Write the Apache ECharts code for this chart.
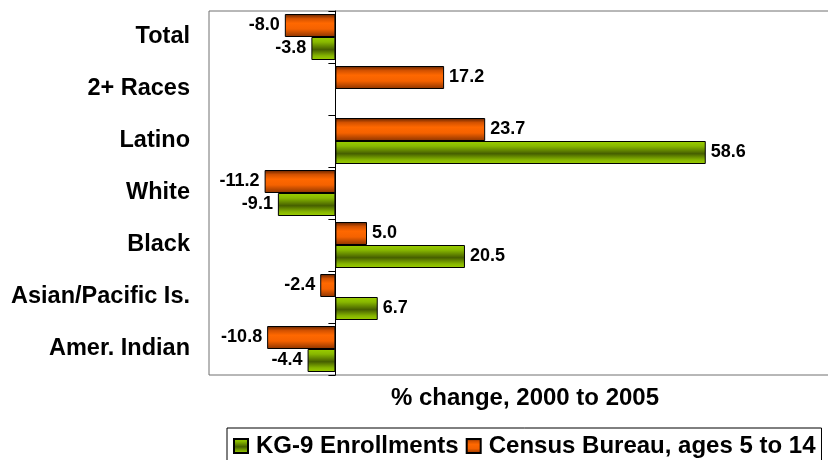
<!DOCTYPE html>
<html>
<head>
<meta charset="utf-8">
<script src="https://cdn.jsdelivr.net/npm/echarts@6/dist/echarts.min.js"></script>
<style>
  html, body { margin: 0; padding: 0; background: #fff; }
  #chart { width: 828px; height: 460px; }
</style>
</head>
<body>
<div id="chart"></div>
<script>
const categories = ['Total', '2+ Races', 'Latino', 'White', 'Black', 'Asian/Pacific Is.', 'Amer. Indian'];
const censusValues = [-8.0, 17.2, 23.7, -11.2, 5.0, -2.4, -10.8];
const enrollValues = [-3.8, null, 58.6, -9.1, 20.5, 6.7, -4.4];
const censusName = 'Census Bureau, ages 5 to 14';
const enrollName = 'KG-9 Enrollments';

const FONT = '"Liberation Sans", Arial, sans-serif';

// put the value label on the outer end of each bar
const withLabels = (values) =>
  values.map((v) =>
    v == null ? '-' : { value: v, label: { position: v < 0 ? 'left' : 'right' } },
  );

const orangeFill = new echarts.graphic.LinearGradient(0, 0, 0, 1, [
  { offset: 0, color: '#5e2100' },
  { offset: 0.2, color: '#d45200' },
  { offset: 0.4, color: '#ff6800' },
  { offset: 0.65, color: '#f56200' },
  { offset: 1, color: '#8a3300' },
]);
const greenFill = new echarts.graphic.LinearGradient(0, 0, 0, 1, [
  { offset: 0, color: '#9ccf00' },
  { offset: 0.22, color: '#88b800' },
  { offset: 0.55, color: '#465f00' },
  { offset: 0.82, color: '#86b500' },
  { offset: 1, color: '#9ccf00' },
]);

const barLabel = {
  show: true,
  color: '#000',
  fontFamily: FONT,
  fontWeight: 'bold',
  fontSize: 18,
  distance: 5,
  formatter: (p) => p.value.toFixed(1),
};

const chart = echarts.init(document.getElementById('chart'));
chart.setOption({
  animation: false,
  grid: {
    show: true,
    left: 209,
    top: 11,
    bottom: 85,
    right: -13,
    outerBoundsMode: 'none',
    containLabel: false,
    borderColor: '#707070',
    borderWidth: 1,
  },
  legend: {
    data: [enrollName, censusName],
    left: 227,
    top: 428,
    padding: [6, 6, 10, 6],
    borderColor: '#000',
    borderWidth: 1,
    itemWidth: 14,
    itemHeight: 14,
    itemGap: 7,
    icon: 'rect',
    textStyle: {
      color: '#000',
      fontFamily: FONT,
      fontWeight: 'bold',
      fontSize: 24,
      padding: [0, 0, 0, 3],
    },
  },
  xAxis: {
    type: 'value',
    min: -20,
    max: 80,
    name: '% change, 2000 to 2005',
    nameLocation: 'middle',
    nameGap: 11,
    nameTextStyle: {
      color: '#000',
      fontFamily: FONT,
      fontWeight: 'bold',
      fontSize: 24,
    },
    axisLine: { show: false },
    axisTick: { show: false },
    axisLabel: { show: false },
    splitLine: { show: false },
  },
  yAxis: {
    type: 'category',
    inverse: true,
    data: categories,
    axisLine: { onZero: true, lineStyle: { color: '#000', width: 1 } },
    axisTick: { show: true, length: 7, lineStyle: { color: '#000' } },
    axisLabel: {
      margin: 19,
      padding: [4, 0, 0, 0],
      color: '#000',
      fontFamily: FONT,
      fontWeight: 'bold',
      fontSize: 23.5,
    },
  },
  series: [
    {
      name: censusName,
      type: 'bar',
      barWidth: 23,
      barGap: '0%',
      data: withLabels(censusValues),
      itemStyle: { color: orangeFill, borderColor: '#000', borderWidth: 1 },
      label: barLabel,
    },
    {
      name: enrollName,
      type: 'bar',
      barWidth: 23,
      barGap: '0%',
      data: withLabels(enrollValues),
      itemStyle: { color: greenFill, borderColor: '#000', borderWidth: 1 },
      label: barLabel,
    },
  ],
});
</script>
</body>
</html>
